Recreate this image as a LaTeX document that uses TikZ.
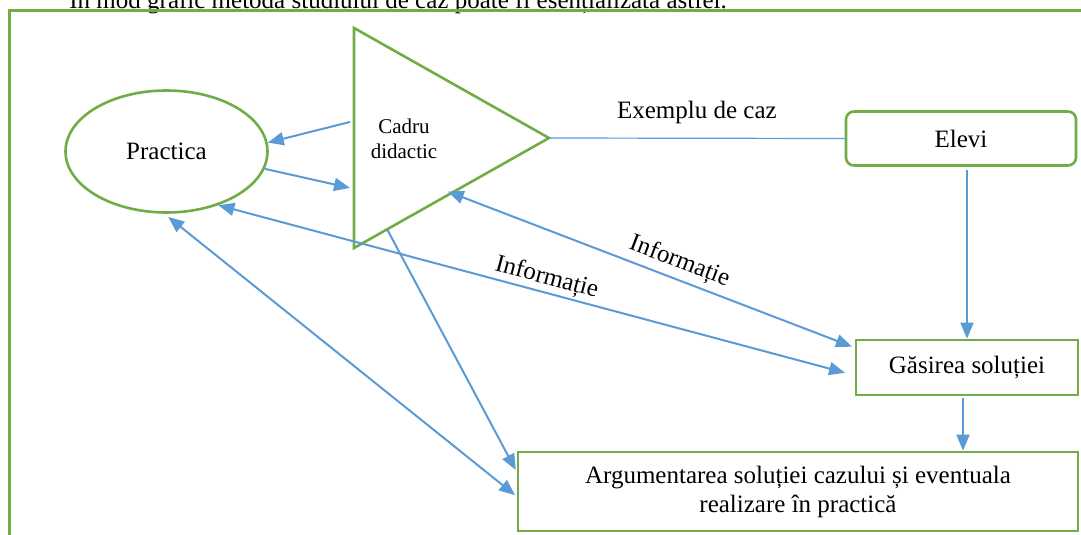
\documentclass[tikz,border=0pt]{standalone}
\usepackage{fontspec}
\setmainfont{Liberation Serif}
\usetikzlibrary{shapes.geometric,arrows.meta,calc}

\definecolor{verde}{HTML}{70AD47}
\definecolor{albastru}{HTML}{5B9BD5}

\tikzset{
  cutie/.style={draw=verde, line width=1.3pt, fill=white, inner sep=0pt,
    font=\fontsize{12.5}{14.5}\selectfont},
  sageata/.style={albastru, line width=1pt, -{Triangle[length=8pt,width=6.5pt]}},
  dubla/.style={sageata, {Triangle[length=8pt,width=6.5pt]}-{Triangle[length=8pt,width=6.5pt]}},
  eticheta/.style={text=black, font=\fontsize{12.5}{14.5}\selectfont, inner sep=1pt}
}

\begin{document}
\begin{tikzpicture}[x=0.5pt,y=-0.5pt]
\useasboundingbox (0,0) rectangle (1081,535);

% text of the page, cut at the top
\node[eticheta, anchor=base west] (titlu) at (67,8.5) {În mod grafic metoda studiului de caz poate fi esențializată astfel.};
% frame
\draw[verde, line width=1.5pt] (9,560) -- (9,11) -- (1100,11);

\node[cutie, ellipse, minimum width=101pt, minimum height=61pt] (prac) at (166.5,151.5) {Practica};

% triangle
\coordinate (tsus) at (354,28);
\coordinate (tjos) at (354,248);
\coordinate (tvarf) at (549,138);
\draw[verde, line width=1.3pt] (tsus) -- (tvarf) -- (tjos) -- cycle;
\node[align=center, font=\fontsize{10.5}{12.5}\selectfont] (cadru) at (404,139) {Cadru\\didactic};

\node[cutie, rounded corners=4pt, minimum width=115pt, minimum height=27pt] (elevi) at (961,138.5) {Elevi};
\node[cutie, minimum width=111pt, minimum height=27.5pt] (gasire) at (967,367.5) {Găsirea soluției};
\node[cutie, minimum width=280pt, minimum height=39.5pt, align=center] (argum) at (798,491.5)
  {Argumentarea soluției cazului și eventuala\\realizare în practică};

% connectors
\draw[albastru, line width=0.6pt] (tvarf) -- node[eticheta, above=6pt] {Exemplu de caz} (elevi.west);
\draw[sageata] ($(tsus)!0.427!(tjos)+(-4,0)$) -- (prac.5);
\draw[sageata] (prac.-10) -- ($(tsus)!0.727!(tjos)+(-4,0)$);
\draw[dubla, shorten <=-2pt, shorten >=1.5pt] ($(tjos)!0.5!(tvarf)$) --
  node[eticheta, pos=0.55, sloped, above=1.5pt] {Informație} (gasire.170);
\draw[dubla, shorten >=5pt] (prac.-46) --
  node[eticheta, pos=0.51, sloped, above=0pt] {Informație} (gasire.184);
\draw[sageata, shorten >=1pt] ($(tjos)!0.17!(tvarf)$) -- (argum.176);
\draw[dubla, shorten <=2.5pt, shorten >=1pt] (prac.-92) -- (argum.181);
\draw[sageata, shorten <=1.5pt] (elevi.south -| gasire.north) -- (gasire.north);
\draw[sageata, shorten <=1pt] ([xshift=-2pt]gasire.south) -- ([xshift=-2pt]gasire.south |- argum.north);
\end{tikzpicture}
\end{document}
